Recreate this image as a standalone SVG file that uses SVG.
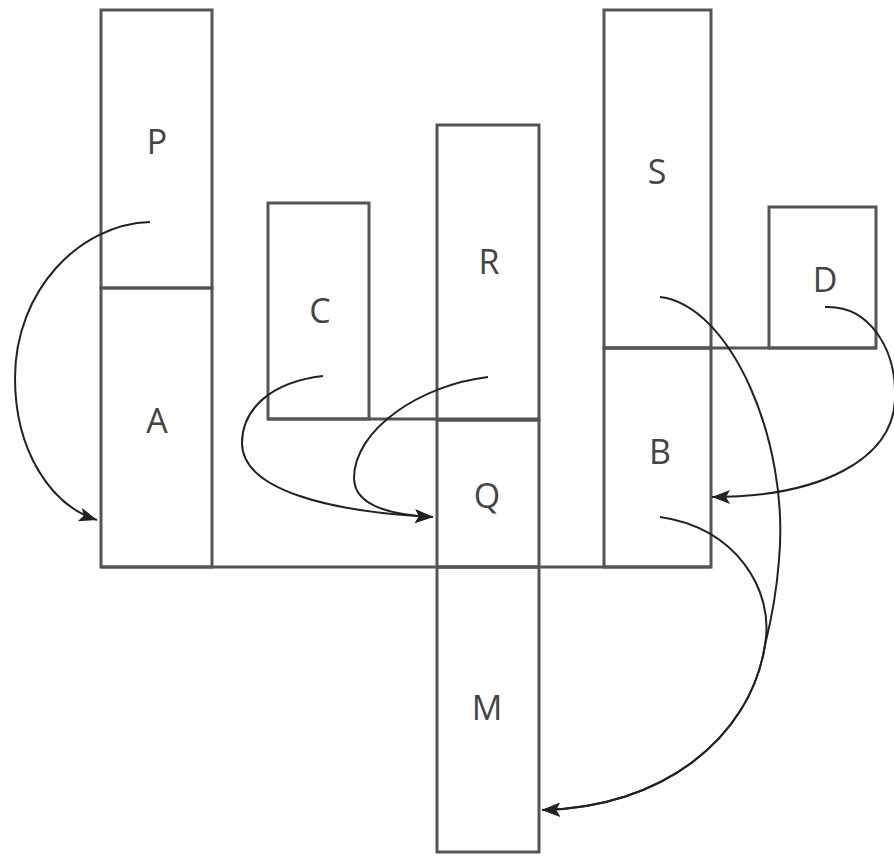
<svg xmlns="http://www.w3.org/2000/svg" width="894" height="856" viewBox="0 0 894 856">
  <style>
    .box { fill: none; stroke: #555; stroke-width: 3; }
    .edge { fill: none; stroke: #555; stroke-width: 3; }
    .lbl { font-family: "Open Sans", "DejaVu Sans", sans-serif; font-size: 34px; fill: #444; text-anchor: middle; }
    .link { fill: none; stroke: #222; stroke-width: 2; marker-end: url(#arrow); }
  </style>
  <defs>
    <marker id="arrow" markerUnits="userSpaceOnUse" markerWidth="20" markerHeight="14" refX="18" refY="7" orient="auto">
      <path d="M0,0 L18,7 L0,14 L4,7 Z" fill="#222"/>
    </marker>
  </defs>
  <rect width="894" height="856" fill="#fff"/>

  <g id="P"><rect class="box" x="101" y="10" width="111" height="278"/><text class="lbl" x="157" y="154">P</text></g>
  <g id="A"><rect class="box" x="101" y="288" width="111" height="279"/><text class="lbl" x="157" y="433">A</text></g>
  <g id="C"><rect class="box" x="268" y="203" width="101" height="216"/><text class="lbl" x="320" y="323">C</text></g>
  <g id="R"><rect class="box" x="437" y="125" width="102" height="295"/><text class="lbl" x="489" y="274">R</text></g>
  <g id="Q"><rect class="box" x="437" y="420" width="102" height="147"/><text class="lbl" x="487" y="508">Q</text></g>
  <g id="M"><rect class="box" x="437" y="567" width="102" height="285"/><text class="lbl" x="487" y="720">M</text></g>
  <g id="S"><rect class="box" x="604" y="10" width="107" height="338"/><text class="lbl" x="657" y="184">S</text></g>
  <g id="B"><rect class="box" x="604" y="348" width="107" height="219"/><text class="lbl" x="660" y="464">B</text></g>
  <g id="D"><rect class="box" x="769" y="207" width="107" height="141"/><text class="lbl" x="825" y="292">D</text></g>

  <!-- shared baselines joining neighbouring columns -->
  <g id="baselines">
    <line class="edge" x1="101" y1="567" x2="711" y2="567"/>
    <line class="edge" x1="268" y1="419" x2="539" y2="419"/>
    <line class="edge" x1="604" y1="348" x2="876" y2="348"/>
  </g>

  <g id="connectors">
    <path class="link" d="M150,222 C80,224 15,290 15,378 C15,450 50,505 97,520"/>
    <path class="link" d="M323,376 C270,382 242,410 242,443 C242,490 330,512 433,517"/>
    <path class="link" d="M488,377 C420,385 354,430 354,478 C354,505 390,515 433,517"/>
    <path class="link" d="M660,297 C730,305 790,440 779,560 C776,600 770,625 765,645 C750,740 660,808 542,810"/>
    <path class="link" d="M660,517 C735,527 775,590 765,645 C750,740 660,808 542,810"/>
    <path class="link" d="M825,307 C870,305 897,350 895,400 C892,460 820,497 712,497"/>
  </g>
</svg>
